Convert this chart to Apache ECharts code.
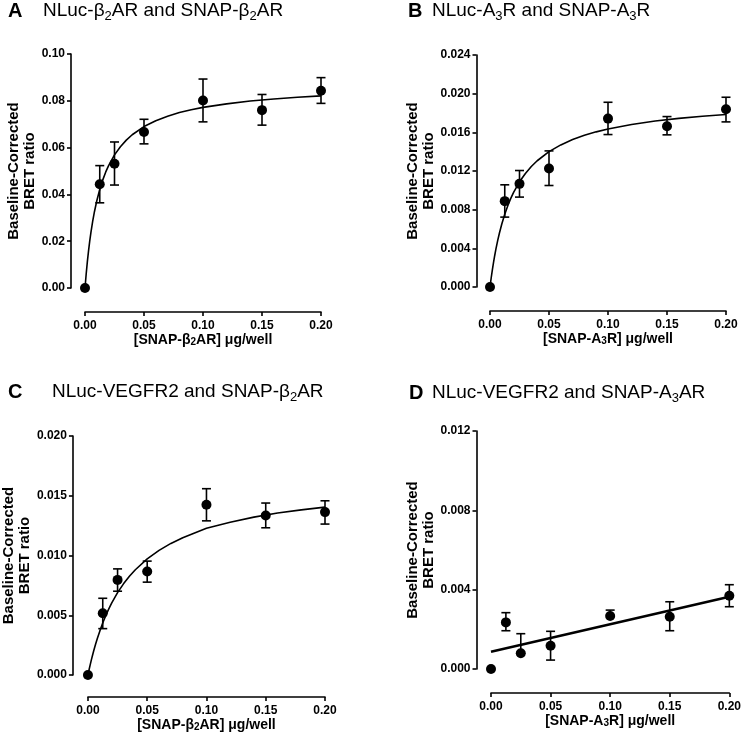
<!DOCTYPE html>
<html>
<head>
<meta charset="utf-8">
<script src="https://cdn.jsdelivr.net/npm/echarts@6/dist/echarts.min.js"></script>
<style>
  html, body { margin: 0; padding: 0; background: #fff; }
  #chart { width: 744px; height: 748px; }
</style>
</head>
<body>
<div id="chart"></div>
<script>
// doses (x) shared by all panels
var dose = [0, 0.0125, 0.025, 0.05, 0.1, 0.15, 0.2]
var fitDose = [0, 0.001, 0.002, 0.003, 0.004, 0.005, 0.0065, 0.008, 0.01, 0.0125, 0.015, 0.0175, 0.02, 0.025,
  0.03, 0.035, 0.04, 0.05, 0.06, 0.07, 0.08, 0.09, 0.1, 0.12, 0.14, 0.16, 0.18, 0.2]

// A: NLuc-b2AR / SNAP-b2AR
var meanA = [0, 0.0443, 0.0531, 0.0667, 0.0801, 0.0760, 0.0843]
var lowA = [null, 0.0364, 0.0440, 0.0616, 0.0710, 0.0696, 0.0789]
var highA = [null, 0.0523, 0.0624, 0.0721, 0.0893, 0.0827, 0.0899]
var fitA = [0, 0.0060, 0.0113, 0.0159, 0.0200, 0.0237, 0.0285, 0.0326, 0.0373, 0.0421, 0.0461, 0.0495, 0.0523, 0.0569,
  0.0604, 0.0632, 0.0655, 0.0690, 0.0715, 0.0734, 0.0750, 0.0762, 0.0772, 0.0787, 0.0799, 0.0808, 0.0815, 0.0821]
var yTicksA = ['0.00', '0.02', '0.04', '0.06', '0.08', '0.10']

// B: NLuc-A3R / SNAP-A3R
var meanB = [0, 0.00888, 0.01067, 0.01226, 0.01742, 0.01663, 0.01839]
var lowB = [null, 0.00723, 0.00930, 0.01050, 0.01577, 0.01574, 0.01708]
var highB = [null, 0.01057, 0.01205, 0.01408, 0.01911, 0.01763, 0.01963]
var fitB = [0, 0.00093, 0.00178, 0.00255, 0.00326, 0.00391, 0.00480, 0.00559, 0.00652, 0.00753, 0.00839, 0.00914, 0.00979, 0.01088,
  0.01175, 0.01247, 0.01306, 0.01400, 0.01470, 0.01525, 0.01569, 0.01605, 0.01634, 0.01681, 0.01717, 0.01744, 0.01766, 0.01784]
var yTicksB = ['0.000', '0.004', '0.008', '0.012', '0.016', '0.020', '0.024']

// C: NLuc-VEGFR2 / SNAP-b2AR
var meanC = [0, 0.00517, 0.00796, 0.00866, 0.01425, 0.01335, 0.01363]
var lowC = [null, 0.00388, 0.00701, 0.00777, 0.01290, 0.01232, 0.01263]
var highC = [null, 0.00642, 0.00888, 0.00953, 0.01559, 0.01439, 0.01458]
var fitC = [0, 0.00046, 0.00089, 0.00131, 0.00170, 0.00207, 0.00259, 0.00308, 0.00367, 0.00435, 0.00496, 0.00551, 0.00601, 0.00689,
  0.00763, 0.00826, 0.00881, 0.00972, 0.01043, 0.01101, 0.01149, 0.01189, 0.01228, 0.01278, 0.01321, 0.01355, 0.01382, 0.01405]
var yTicksC = ['0.000', '0.005', '0.010', '0.015', '0.020']

// D: NLuc-VEGFR2 / SNAP-A3AR (linear fit)
var meanD = [0, 0.00235, 0.00079, 0.00117, 0.00267, 0.00263, 0.00369]
var lowD = [null, 0.00193, null, 0.00045, null, 0.00193, 0.00314]
var highD = [null, 0.00284, 0.00178, 0.00190, 0.00297, 0.00339, 0.00425]
var lineDoseD = [0, 0.2]
var lineD = [0.00087, 0.00364]
var yTicksD = ['0.000', '0.004', '0.008', '0.012']

var FONT = '"Liberation Sans", Arial, sans-serif'

var panels = [
  { letter: 'A', title: 'NLuc-β{s|2}AR and SNAP-β{s|2}AR', xName: '[SNAP-β{s|2}AR] μg/well',
    mean: meanA, low: lowA, high: highA, fx: fitDose, fy: fitA, yTicks: yTicksA,
    grid: { left: 85, top: 54, width: 236, height: 234 }, yOff: 14, xOff: 24, nameGap: 27,
    letterPos: [8, -1], titlePos: [43, -1], lineW: 1.6 },
  { letter: 'B', title: 'NLuc-A{s|3}R and SNAP-A{s|3}R', xName: '[SNAP-A{s|3}R] μg/well',
    mean: meanB, low: lowB, high: highB, fx: fitDose, fy: fitB, yTicks: yTicksB,
    grid: { left: 490, top: 55, width: 236, height: 232 }, yOff: 13.5, xOff: 24, nameGap: 33,
    letterPos: [408, -1], titlePos: [432, -1], lineW: 1.6 },
  { letter: 'C', title: 'NLuc-VEGFR2 and SNAP-β{s|2}AR', xName: '[SNAP-β{s|2}AR] μg/well',
    mean: meanC, low: lowC, high: highC, fx: fitDose, fy: fitC, yTicks: yTicksC,
    grid: { left: 85, top: 436, width: 240, height: 239 }, yOff: 15, xOff: 22, nameGap: 33,
    letterPos: [8, 380], titlePos: [52, 380], lineW: 1.6 },
  { letter: 'D', title: 'NLuc-VEGFR2 and SNAP-A{s|3}AR', xName: '[SNAP-A{s|3}R] μg/well',
    mean: meanD, low: lowD, high: highD, fx: lineDoseD, fy: lineD, yTicks: yTicksD,
    grid: { left: 491, top: 431, width: 240, height: 238 }, yOff: 14.5, xOff: 24, nameGap: 31,
    letterPos: [409, 381], titlePos: [432, 381], lineW: 2.5 }
]

var chart = echarts.init(document.getElementById('chart'))

var titles = []
var grids = []
var xAxes = []
var yAxes = []
var series = []

panels.forEach(function (p, i) {
  titles.push({
    text: p.letter, left: p.letterPos[0], top: p.letterPos[1], padding: 0,
    textStyle: { fontFamily: FONT, fontSize: 20, fontWeight: 'bold', color: '#000', lineHeight: 24 }
  })
  titles.push({
    text: p.title, left: p.titlePos[0], top: p.titlePos[1], padding: 0,
    textStyle: {
      fontFamily: FONT, fontSize: 19, fontWeight: 'normal', color: '#000', lineHeight: 24,
      rich: { s: { fontFamily: FONT, fontSize: 13, color: '#000', lineHeight: 12, verticalAlign: 'bottom' } }
    }
  })
  grids.push(p.grid)

  var yt = p.yTicks
  var yMax = parseFloat(yt[yt.length - 1])
  var yStep = parseFloat(yt[1]) - parseFloat(yt[0])
  var yDec = yt[0].split('.')[1].length

  xAxes.push({
    type: 'value', gridIndex: i, min: 0, max: 0.2, interval: 0.05,
    offset: p.xOff,
    name: p.xName, nameLocation: 'middle', nameGap: 19,
    nameTextStyle: {
      fontFamily: FONT, fontSize: 14, fontWeight: 'bold', color: '#000',
      rich: { s: { fontFamily: FONT, fontSize: 10, fontWeight: 'bold', color: '#000', verticalAlign: 'bottom', lineHeight: 10 } }
    },
    splitLine: { show: false },
    axisLine: { onZero: false, lineStyle: { color: '#000', width: 1.6 } },
    axisTick: { inside: false, length: 4, lineStyle: { color: '#000', width: 1.6 } },
    axisLabel: {
      margin: 8, fontFamily: FONT, fontSize: 12, fontWeight: 'bold', color: '#000',
      formatter: function (v) { return v.toFixed(2) }
    }
  })
  yAxes.push({
    type: 'value', gridIndex: i, min: 0, max: yMax, interval: yStep,
    offset: p.yOff,
    name: 'Baseline-Corrected\nBRET ratio', nameLocation: 'middle', nameGap: p.nameGap, nameRotate: 90,
    nameTextStyle: { fontFamily: FONT, fontSize: 15, fontWeight: 'bold', color: '#000', lineHeight: 16, align: 'center' },
    splitLine: { show: false },
    axisLine: { show: true, onZero: false, lineStyle: { color: '#000', width: 1.6 } },
    axisTick: { show: true, inside: false, length: 4, lineStyle: { color: '#000', width: 1.6 } },
    axisLabel: {
      margin: 6, fontFamily: FONT, fontSize: 12, fontWeight: 'bold', color: '#000',
      formatter: function (v) { return v.toFixed(yDec) }
    }
  })

  // fitted curve / line
  series.push({
    type: 'line', xAxisIndex: i, yAxisIndex: i,
    data: p.fx.map(function (x, k) { return [x, p.fy[k]] }),
    smooth: false,
    showSymbol: false, symbol: 'none',
    lineStyle: { color: '#000', width: p.lineW },
    z: 2
  })

  // error bars
  series.push({
    type: 'custom', xAxisIndex: i, yAxisIndex: i,
    data: dose.map(function (x, k) {
      return [x, p.mean[k], p.low[k] == null ? '-' : p.low[k], p.high[k] == null ? '-' : p.high[k]]
    }),
    renderItem: function (params, api) {
      var x = api.value(0)
      var m = api.coord([x, api.value(1)])
      var children = []
      var cap = 4.5
      var style = { stroke: '#000', lineWidth: 1.6, fill: null }
      ;[api.value(2), api.value(3)].forEach(function (v) {
        if (v == null || isNaN(v)) return
        var e = api.coord([x, v])
        children.push({ type: 'line', shape: { x1: m[0], y1: m[1], x2: e[0], y2: e[1] }, style: style })
        children.push({ type: 'line', shape: { x1: e[0] - cap, y1: e[1], x2: e[0] + cap, y2: e[1] }, style: style })
      })
      return { type: 'group', children: children }
    },
    z: 3
  })

  // mean points
  series.push({
    type: 'scatter', xAxisIndex: i, yAxisIndex: i,
    data: dose.map(function (x, k) { return [x, p.mean[k]] }),
    symbol: 'circle', symbolSize: 10,
    itemStyle: { color: '#000', opacity: 1 },
    clip: false,
    z: 4
  })
})

var option = {
  animation: false,
  backgroundColor: '#fff',
  title: titles,
  grid: grids,
  xAxis: xAxes,
  yAxis: yAxes,
  series: series
}

chart.setOption(option)
</script>
</body>
</html>
